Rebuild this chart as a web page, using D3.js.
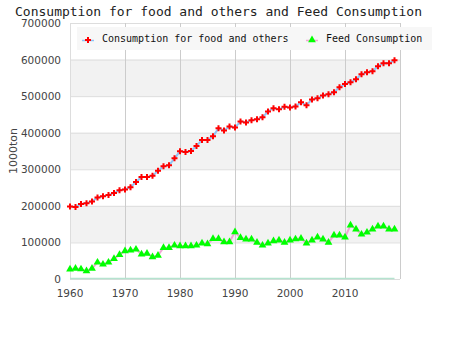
<!DOCTYPE html>
<html>
<head>
<meta charset="utf-8">
<script src="https://cdn.jsdelivr.net/npm/d3@7"></script>
<style>
  body { margin: 0; background: #fff; }
  svg { display: block; }
</style>
</head>
<body>
<div id="canvas"></div>
<script>
var width = 450
var height = 350
var margin = { top: 23, right: 50, bottom: 71, left: 70 }

var years = d3.range(1960, 2020)

var foodValues = [198000, 197000, 205000, 207000, 212000, 223000, 226000, 230000, 235000, 242500,
    245000, 251000, 265000, 279000, 279000, 282000, 296000, 308000, 311000, 330000,
    349000, 347000, 350000, 364000, 380000, 380000, 390000, 412000, 406000, 417000,
    414000, 431000, 428000, 434000, 437000, 442000, 458000, 467000, 464000, 471000,
    469000, 472000, 483000, 475000, 491000, 494000, 502000, 505000, 510500, 524000,
    533000, 538000, 546000, 560000, 565000, 568000, 582000, 590000, 590000, 598000]

var feedValues = [26500, 29000, 27000, 22000, 29000, 45500, 40000, 45500, 55500, 66500,
    76500, 78500, 81000, 67500, 70000, 60000, 64500, 85500, 85500, 92000,
    90000, 90000, 90000, 92000, 97500, 95500, 110000, 110000, 101000, 101000,
    128500, 113000, 108500, 108500, 100000, 92000, 97500, 104000, 106000, 100000,
    106000, 109000, 111000, 97500, 106000, 114000, 108500, 100000, 119500, 119500,
    114000, 147000, 136000, 122000, 127500, 136000, 144000, 144000, 136000, 136000]

var seriesNames = ["Consumption for food and others", "Feed Consumption"]
var yTicks = [0, 100000, 200000, 300000, 400000, 500000, 600000, 700000]
var xTicks = [1960, 1970, 1980, 1990, 2000, 2010]

var svg = d3.select("#canvas")
    .append("svg")
    .attr("width", width)
    .attr("height", height)

var xScale = d3.scaleLinear().domain([1960, 2020]).range([margin.left, width - margin.right])
var yScale = d3.scaleLinear().domain([0, 700000]).range([height - margin.bottom, margin.top])

var plotLeft = margin.left
var plotRight = width - margin.right

// alternating bands
svg.selectAll(".band")
    .data([100000, 300000, 500000])
    .enter().append("rect")
    .attr("x", plotLeft)
    .attr("y", function (d) { return yScale(d + 100000) })
    .attr("width", plotRight - plotLeft)
    .attr("height", function (d) { return yScale(d) - yScale(d + 100000) })
    .attr("fill", "#f2f2f2")

// horizontal grid
svg.selectAll(".hgrid")
    .data(yTicks)
    .enter().append("line")
    .attr("x1", plotLeft)
    .attr("x2", plotRight)
    .attr("y1", function (d) { return yScale(d) + 0.5 })
    .attr("y2", function (d) { return yScale(d) + 0.5 })
    .attr("stroke", "#dddddd")
    .attr("stroke-width", 1)

// vertical grid
svg.selectAll(".vgrid")
    .data(xTicks.concat([2020]))
    .enter().append("line")
    .attr("x1", function (d) { return xScale(d) + 0.5 })
    .attr("x2", function (d) { return xScale(d) + 0.5 })
    .attr("y1", yScale(700000))
    .attr("y2", yScale(0))
    .attr("stroke", function (d) { return d == 1960 ? "#dddddd" : "#cccccc" })
    .attr("stroke-width", 1)

// zero line
svg.append("line")
    .attr("x1", plotLeft)
    .attr("x2", xScale(2019))
    .attr("y1", yScale(0) - 0.5)
    .attr("y2", yScale(0) - 0.5)
    .attr("stroke", "#b5e3cf")
    .attr("stroke-width", 1.5)

// y axis labels
svg.selectAll(".ylabel")
    .data(yTicks)
    .enter().append("text")
    .attr("x", margin.left - 9)
    .attr("y", function (d) { return yScale(d) + 4 })
    .attr("text-anchor", "end")
    .attr("font-family", "DejaVu Sans, sans-serif")
    .attr("font-size", 10.5)
    .attr("fill", "#444")
    .text(function (d) { return d })

// x axis labels
svg.selectAll(".xlabel")
    .data(xTicks)
    .enter().append("text")
    .attr("x", function (d) { return xScale(d) })
    .attr("y", yScale(0) + 18)
    .attr("text-anchor", "middle")
    .attr("font-family", "DejaVu Sans, sans-serif")
    .attr("font-size", 10.5)
    .attr("fill", "#444")
    .text(function (d) { return d })

svg.append("text")
    .attr("transform", "translate(17," + yScale(350000) + ") rotate(-90)")
    .attr("text-anchor", "middle")
    .attr("font-family", "DejaVu Sans, sans-serif")
    .attr("font-size", 11)
    .attr("fill", "#444")
    .text("1000ton")

// title
svg.append("text")
    .attr("x", 15)
    .attr("y", 16)
    .attr("font-family", "DejaVu Sans Mono, monospace")
    .attr("font-size", 13)
    .attr("fill", "#222")
    .text("Consumption for food and others and Feed Consumption")

var line = d3.line()
    .x(function (d, i) { return xScale(years[i]) })
    .y(function (d) { return yScale(d) })

var cross = d3.symbol().type(d3.symbolCross).size(20)
var tri = d3.symbol().type(d3.symbolTriangle).size(26)

svg.append("path")
    .attr("d", line(foodValues))
    .attr("fill", "none")
    .attr("stroke", "#8fc3f5")
    .attr("stroke-width", 2)

svg.append("path")
    .attr("d", line(feedValues))
    .attr("fill", "none")
    .attr("stroke", "#f2a5d5")
    .attr("stroke-width", 2)

svg.selectAll(".food")
    .data(foodValues)
    .enter().append("path")
    .attr("d", cross)
    .attr("transform", function (d, i) { return "translate(" + xScale(years[i]) + "," + yScale(d) + ")" })
    .attr("fill", "#ff0000")

svg.selectAll(".feed")
    .data(feedValues)
    .enter().append("path")
    .attr("d", tri)
    .attr("transform", function (d, i) { return "translate(" + xScale(years[i]) + "," + yScale(d) + ")" })
    .attr("fill", "#00ff00")

// legend
var legend = svg.append("g").attr("id", "legend")
legend.append("rect")
    .attr("x", 77)
    .attr("y", 27)
    .attr("width", 355)
    .attr("height", 23)
    .attr("fill", "#f7f7f7")

var legendItems = [
    { x: 88, name: seriesNames[0], stroke: "#8fc3f5", shape: cross, fill: "#ff0000" },
    { x: 312, name: seriesNames[1], stroke: "#f2a5d5", shape: tri, fill: "#00ff00" }
]
legendItems.forEach(function (item) {
    legend.append("line")
        .attr("x1", item.x - 6).attr("x2", item.x + 6)
        .attr("y1", 40.5).attr("y2", 40.5)
        .attr("stroke", item.stroke).attr("stroke-width", 1.5)
    legend.append("path")
        .attr("d", item.shape)
        .attr("transform", "translate(" + item.x + "," + 40 + ")")
        .attr("fill", item.fill)
    legend.append("text")
        .attr("x", item.x + 14)
        .attr("y", 42)
        .attr("font-family", "DejaVu Sans Mono, monospace")
        .attr("font-size", 10)
        .attr("fill", "#111")
        .text(item.name)
})
</script>
</body>
</html>
